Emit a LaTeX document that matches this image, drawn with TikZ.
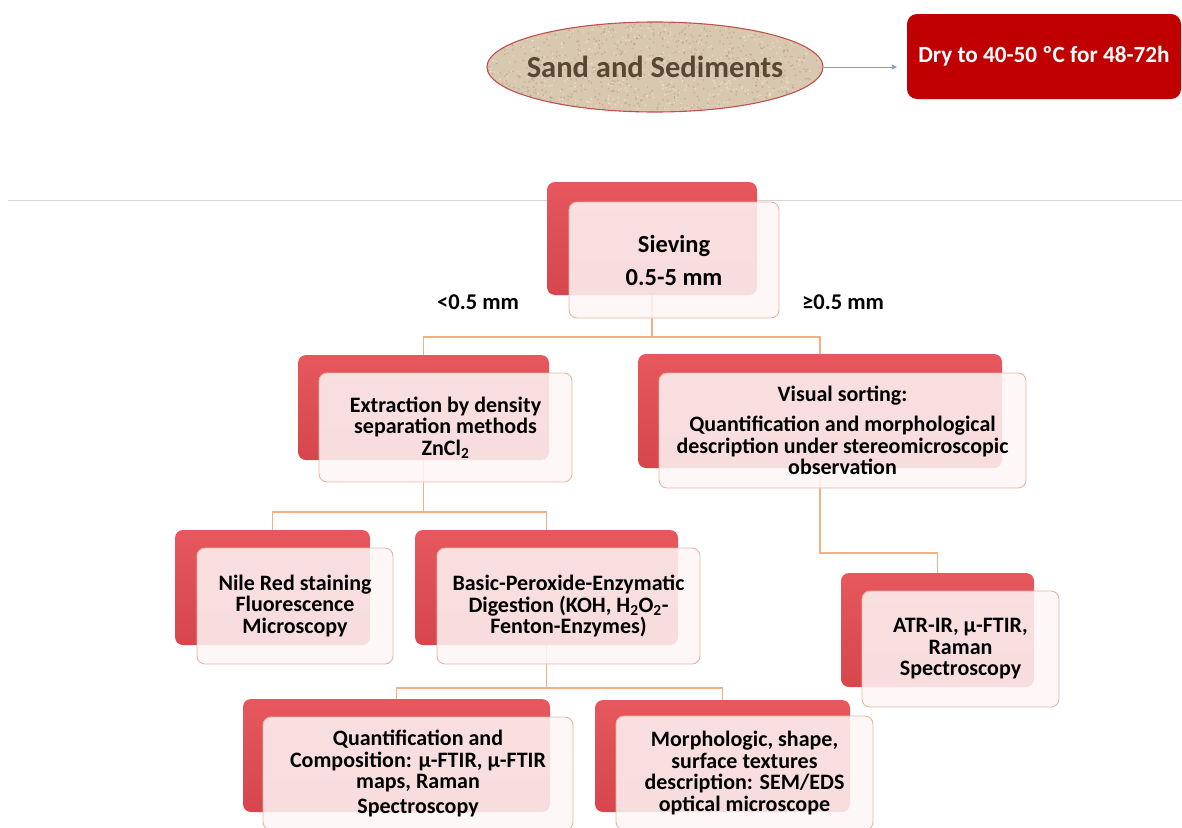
\documentclass[tikz,border=0pt]{standalone}
\usepackage{fontspec}
\setmainfont{Carlito}
\usetikzlibrary{shapes.geometric,arrows.meta}
\pgfdeclarelayer{background}
\pgfsetlayers{background,main}

\definecolor{backred}{RGB}{214,70,76}
\definecolor{backredtop}{RGB}{230,88,94}
\definecolor{frontfill}{RGB}{253,246,246}
\definecolor{frontline}{RGB}{228,184,162}
\definecolor{connline}{RGB}{244,176,132}
\definecolor{dryred}{RGB}{192,0,0}
\definecolor{sandfill}{RGB}{217,200,176}
\definecolor{sanddark}{RGB}{170,148,118}
\definecolor{sandlight}{RGB}{240,230,212}
\definecolor{sandtext}{RGB}{90,70,50}
\definecolor{arrowblue}{RGB}{122,163,200}
\definecolor{rulegray}{RGB}{212,212,212}
\definecolor{sandedge}{RGB}{192,80,77}

\tikzset{
  back/.style={rounded corners=8pt, top color=backredtop, bottom color=backred, draw=none},
  front/.style={rounded corners=8pt, fill=frontfill, fill opacity=0.86, text opacity=1,
    draw=frontline, line width=0.9pt, align=center, text=black,
    font=\fontsize{22}{21.5}\selectfont\bfseries},
  conn/.style={draw=connline, line width=1.4pt},
  lbl/.style={font=\fontsize{22.5}{22}\selectfont\bfseries, text=black},
}

\begin{document}
\begin{tikzpicture}[x=1pt,y=-1pt]
\useasboundingbox (0,0) rectangle (1182,827);
\clip (0,0) rectangle (1182,827);

% title row: sample and drying step
\begin{scope}
  \clip (655,67) ellipse (168 and 45);
  \fill[sandfill] (487,22) rectangle (823,112);
  \pgfmathsetseed{7}
  \foreach \i in {1,...,700}{
    \pgfmathsetmacro\rx{487+336*rnd}
    \pgfmathsetmacro\ry{22+90*rnd}
    \fill[sanddark, opacity=0.45] (\rx,\ry) circle (1.0);
  }
  \foreach \i in {1,...,500}{
    \pgfmathsetmacro\rx{487+336*rnd}
    \pgfmathsetmacro\ry{22+90*rnd}
    \fill[sandlight, opacity=0.6] (\rx,\ry) circle (1.0);
  }
\end{scope}
\node[ellipse, draw=sandedge, line width=1.1pt,
  minimum width=336, minimum height=90, inner sep=0pt] (sand) at (655,67) {};
\node[text=sandtext, font=\fontsize{30.5}{34}\selectfont\bfseries, inner sep=0pt]
  (sandtext) at (sand.center) {Sand and Sediments};

\node[rounded corners=10pt, fill=dryred, minimum width=274, minimum height=85,
  text=white, font=\fontsize{23.2}{28}\selectfont\bfseries, inner sep=0pt] (dry) at (1044,56.5)
  {Dry to 40-50 ºC for 48-72h};

\draw[arrowblue, line width=0.9pt, shorten >=10pt, -{Triangle[length=5pt,width=5pt]}]
  (sand.east) -- (sand.east -| dry.west);

% separating rule
\draw[rulegray, line width=1pt] (8,200) -- (1182,200);

% step boxes: red back panel and translucent front panel
\node[back, minimum width=210, minimum height=113] (sieveB) at (652,238.5) {};
\node[front, minimum width=210, minimum height=116, font=\fontsize{24.5}{24}\selectfont\bfseries]
  (sieveF) at (674,260) {Sieving\\[9pt]0.5-5 mm};

\node[back, minimum width=251, minimum height=105] (extrB) at (423.5,407.5) {};
\node[front, minimum width=253, minimum height=109] (extrF) at (445.5,427.5)
  {Extraction by density\\separation methods\\ZnCl\textsubscript{2}};

\node[back, minimum width=364, minimum height=114] (visB) at (820,411) {};
\node[front, minimum width=367, minimum height=115] (visF) at (842.5,430.5)
  {Visual sorting:\\[9pt]Quantification and morphological\\description under stereomicroscopic\\observation};

\node[back, minimum width=195, minimum height=115] (nileB) at (272.5,587.5) {};
\node[front, minimum width=196, minimum height=116] (nileF) at (295,606)
  {Nile Red staining\\Fluorescence\\Microscopy};

\node[back, minimum width=263, minimum height=115] (basicB) at (546.5,587.5) {};
\node[front, minimum width=263, minimum height=116] (basicF) at (568.5,606)
  {Basic-Peroxide-Enzymatic\\Digestion (KOH, H\textsubscript{2}O\textsubscript{2}-\\Fenton-Enzymes)};

\node[back, minimum width=193, minimum height=114] (atrB) at (937.5,630) {};
\node[front, minimum width=197, minimum height=116] (atrF) at (960.5,649)
  {ATR-IR, µ-FTIR,\\Raman\\Spectroscopy};

\node[back, minimum width=307, minimum height=113] (quantB) at (396.5,755.5) {};
\node[front, minimum width=310, minimum height=113] (quantF) at (418,773.5)
  {Quantification and\\Composition: µ-FTIR, µ-FTIR\\maps, Raman\\[3pt]Spectroscopy};

\node[back, minimum width=255, minimum height=112] (morphB) at (722.5,756) {};
\node[front, minimum width=257, minimum height=114] (morphF) at (744.5,773)
  {Morphologic, shape,\\surface textures\\description: SEM/EDS\\optical microscope};

% size-class labels
\node[lbl] (small) at (478,302) {<0.5 mm};
\node[lbl] (large) at (843,302) {≥0.5 mm};

% tree connectors, kept behind the panels
\coordinate (j1) at (0,337);
\coordinate (j2) at (0,512);
\coordinate (j3) at (0,553);
\coordinate (j4) at (0,688);
\begin{pgfonlayer}{background}
  \draw[conn] (sieveB.center) -- (sieveB.center |- j1) -| (extrB.north);
  \draw[conn] (sieveB.center |- j1) -| (visB.north);
  \draw[conn] (extrB.center) -- (extrB.center |- j2) -| (nileB.north);
  \draw[conn] (extrB.center |- j2) -| (basicB.north);
  \draw[conn] (visB.center) -- (visB.center |- j3) -| (atrB.north);
  \draw[conn] (basicB.center) -- (basicB.center |- j4) -| (quantB.north);
  \draw[conn] (basicB.center |- j4) -| (morphB.north);
\end{pgfonlayer}
\end{tikzpicture}
\end{document}
